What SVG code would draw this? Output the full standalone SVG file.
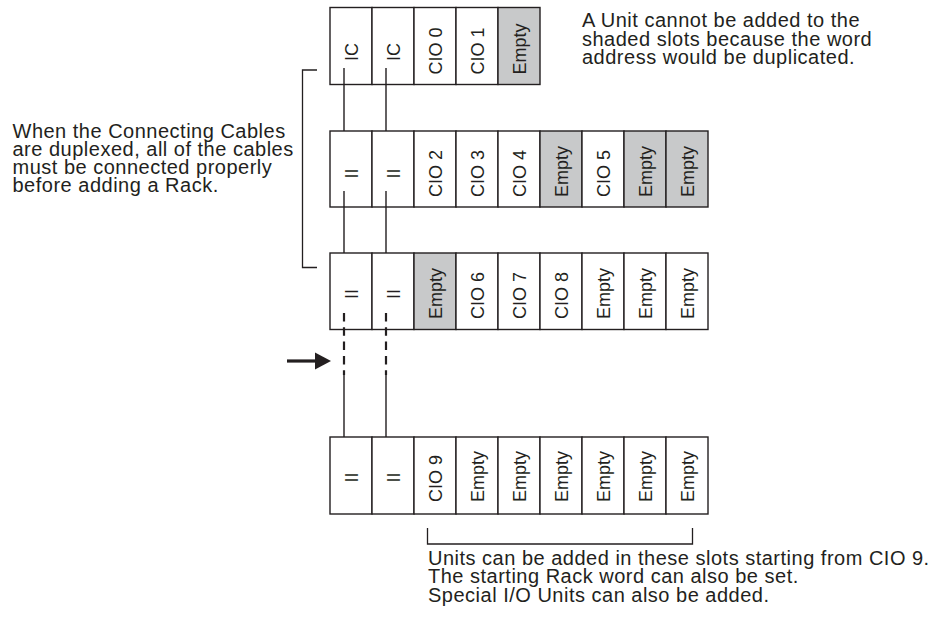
<svg xmlns="http://www.w3.org/2000/svg" width="943" height="618" viewBox="0 0 943 618">
<style>
.bg{fill:#ffffff}
.slot{fill:#ffffff;stroke:#231f20;stroke-width:1.4}
.shade{fill:#c8c9ca}
.lbl{font-family:"Liberation Sans",Arial,Helvetica,sans-serif;font-size:18px;fill:#231f20}
.mid{text-anchor:middle}
.note{font-family:"Liberation Sans",Arial,Helvetica,sans-serif;font-size:20px;letter-spacing:0.5px;fill:#231f20}
.cable{stroke:#231f20;stroke-width:1.4;fill:none}
.dash{stroke:#231f20;stroke-width:2.2;fill:none;stroke-dasharray:8.5 5.8}
.brk{stroke:#231f20;stroke-width:1.3;fill:none}
</style>
<rect class="bg" x="0" y="0" width="943" height="618"/>

<g id="rack-cpu">
  <rect class="slot" x="330" y="7.5" width="42" height="77"/>
  <rect class="slot" x="372" y="7.5" width="42" height="77"/>
  <rect class="slot" x="414" y="7.5" width="42" height="77"/>
  <rect class="slot" x="456" y="7.5" width="42" height="77"/>
  <rect class="slot shade" x="498" y="7.5" width="42" height="77"/>
  <text class="lbl mid" transform="translate(357.5,52) rotate(-90)">IC</text>
  <text class="lbl mid" transform="translate(399.5,52) rotate(-90)">IC</text>
  <text class="lbl" transform="translate(441.5,74.5) rotate(-90)">CIO 0</text>
  <text class="lbl" transform="translate(483.5,74.5) rotate(-90)">CIO 1</text>
  <text class="lbl" transform="translate(525.5,74.5) rotate(-90)">Empty</text>
</g>

<g id="rack-exp1">
  <rect class="slot" x="330" y="131" width="42" height="76"/>
  <rect class="slot" x="372" y="131" width="42" height="76"/>
  <rect class="slot" x="414" y="131" width="42" height="76"/>
  <rect class="slot" x="456" y="131" width="42" height="76"/>
  <rect class="slot" x="498" y="131" width="42" height="76"/>
  <rect class="slot shade" x="540" y="131" width="42" height="76"/>
  <rect class="slot" x="582" y="131" width="42" height="76"/>
  <rect class="slot shade" x="624" y="131" width="42" height="76"/>
  <rect class="slot shade" x="666" y="131" width="42" height="76"/>
  <text class="lbl mid" transform="translate(357.5,173.5) rotate(-90)">II</text>
  <text class="lbl mid" transform="translate(399.5,173.5) rotate(-90)">II</text>
  <text class="lbl" transform="translate(441.5,197) rotate(-90)">CIO 2</text>
  <text class="lbl" transform="translate(483.5,197) rotate(-90)">CIO 3</text>
  <text class="lbl" transform="translate(525.5,197) rotate(-90)">CIO 4</text>
  <text class="lbl" transform="translate(567.5,197) rotate(-90)">Empty</text>
  <text class="lbl" transform="translate(609.5,197) rotate(-90)">CIO 5</text>
  <text class="lbl" transform="translate(651.5,197) rotate(-90)">Empty</text>
  <text class="lbl" transform="translate(693.5,197) rotate(-90)">Empty</text>
</g>

<g id="rack-exp2">
  <rect class="slot" x="330" y="253" width="42" height="76.5"/>
  <rect class="slot" x="372" y="253" width="42" height="76.5"/>
  <rect class="slot shade" x="414" y="253" width="42" height="76.5"/>
  <rect class="slot" x="456" y="253" width="42" height="76.5"/>
  <rect class="slot" x="498" y="253" width="42" height="76.5"/>
  <rect class="slot" x="540" y="253" width="42" height="76.5"/>
  <rect class="slot" x="582" y="253" width="42" height="76.5"/>
  <rect class="slot" x="624" y="253" width="42" height="76.5"/>
  <rect class="slot" x="666" y="253" width="42" height="76.5"/>
  <text class="lbl mid" transform="translate(357.5,294) rotate(-90)">II</text>
  <text class="lbl mid" transform="translate(399.5,294) rotate(-90)">II</text>
  <text class="lbl" transform="translate(441.5,319) rotate(-90)">Empty</text>
  <text class="lbl" transform="translate(483.5,319) rotate(-90)">CIO 6</text>
  <text class="lbl" transform="translate(525.5,319) rotate(-90)">CIO 7</text>
  <text class="lbl" transform="translate(567.5,319) rotate(-90)">CIO 8</text>
  <text class="lbl" transform="translate(609.5,319) rotate(-90)">Empty</text>
  <text class="lbl" transform="translate(651.5,319) rotate(-90)">Empty</text>
  <text class="lbl" transform="translate(693.5,319) rotate(-90)">Empty</text>
</g>

<g id="rack-new">
  <rect class="slot" x="330" y="437" width="42" height="77"/>
  <rect class="slot" x="372" y="437" width="42" height="77"/>
  <rect class="slot" x="414" y="437" width="42" height="77"/>
  <rect class="slot" x="456" y="437" width="42" height="77"/>
  <rect class="slot" x="498" y="437" width="42" height="77"/>
  <rect class="slot" x="540" y="437" width="42" height="77"/>
  <rect class="slot" x="582" y="437" width="42" height="77"/>
  <rect class="slot" x="624" y="437" width="42" height="77"/>
  <rect class="slot" x="666" y="437" width="42" height="77"/>
  <text class="lbl mid" transform="translate(357.5,477.5) rotate(-90)">II</text>
  <text class="lbl mid" transform="translate(399.5,477.5) rotate(-90)">II</text>
  <text class="lbl" transform="translate(441.5,502) rotate(-90)">CIO 9</text>
  <text class="lbl" transform="translate(483.5,502) rotate(-90)">Empty</text>
  <text class="lbl" transform="translate(525.5,502) rotate(-90)">Empty</text>
  <text class="lbl" transform="translate(567.5,502) rotate(-90)">Empty</text>
  <text class="lbl" transform="translate(609.5,502) rotate(-90)">Empty</text>
  <text class="lbl" transform="translate(651.5,502) rotate(-90)">Empty</text>
  <text class="lbl" transform="translate(693.5,502) rotate(-90)">Empty</text>
</g>

<g id="connectors">
  <path class="cable" d="M344,68 V131 M386,68 V131"/>
  <path class="cable" d="M344,191 V253 M386,191 V253"/>
  <path class="dash" d="M344,313 V375 M386,313 V375"/>
  <path class="cable" d="M344,374 V437 M386,374 V437"/>
  <path d="M287,361 H317" stroke="#231f20" stroke-width="3.2" fill="none"/>
  <polygon points="315,352.5 331,361 315,369.5" fill="#231f20"/>
</g>

<g id="note-duplex">
  <path class="brk" d="M317,70 H302.5 V267.5 H317"/>
  <text class="note" x="12.5" y="137.5">When the Connecting Cables</text>
  <text class="note" x="12.5" y="155.7">are duplexed, all of the cables</text>
  <text class="note" x="12.5" y="173.9">must be connected properly</text>
  <text class="note" x="12.5" y="192">before adding a Rack.</text>
</g>

<g id="note-shaded">
  <text class="note" x="582" y="27">A Unit cannot be added to the</text>
  <text class="note" x="582" y="45.5">shaded slots because the word</text>
  <text class="note" x="582" y="64">address would be duplicated.</text>
</g>

<g id="note-add">
  <path class="brk" d="M427.5,528 V544 H692.5 V528"/>
  <text class="note" x="428" y="565">Units can be added in these slots starting from CIO 9.</text>
  <text class="note" x="428" y="583.3">The starting Rack word can also be set.</text>
  <text class="note" x="428" y="601.7">Special I/O Units can also be added.</text>
</g>
</svg>
